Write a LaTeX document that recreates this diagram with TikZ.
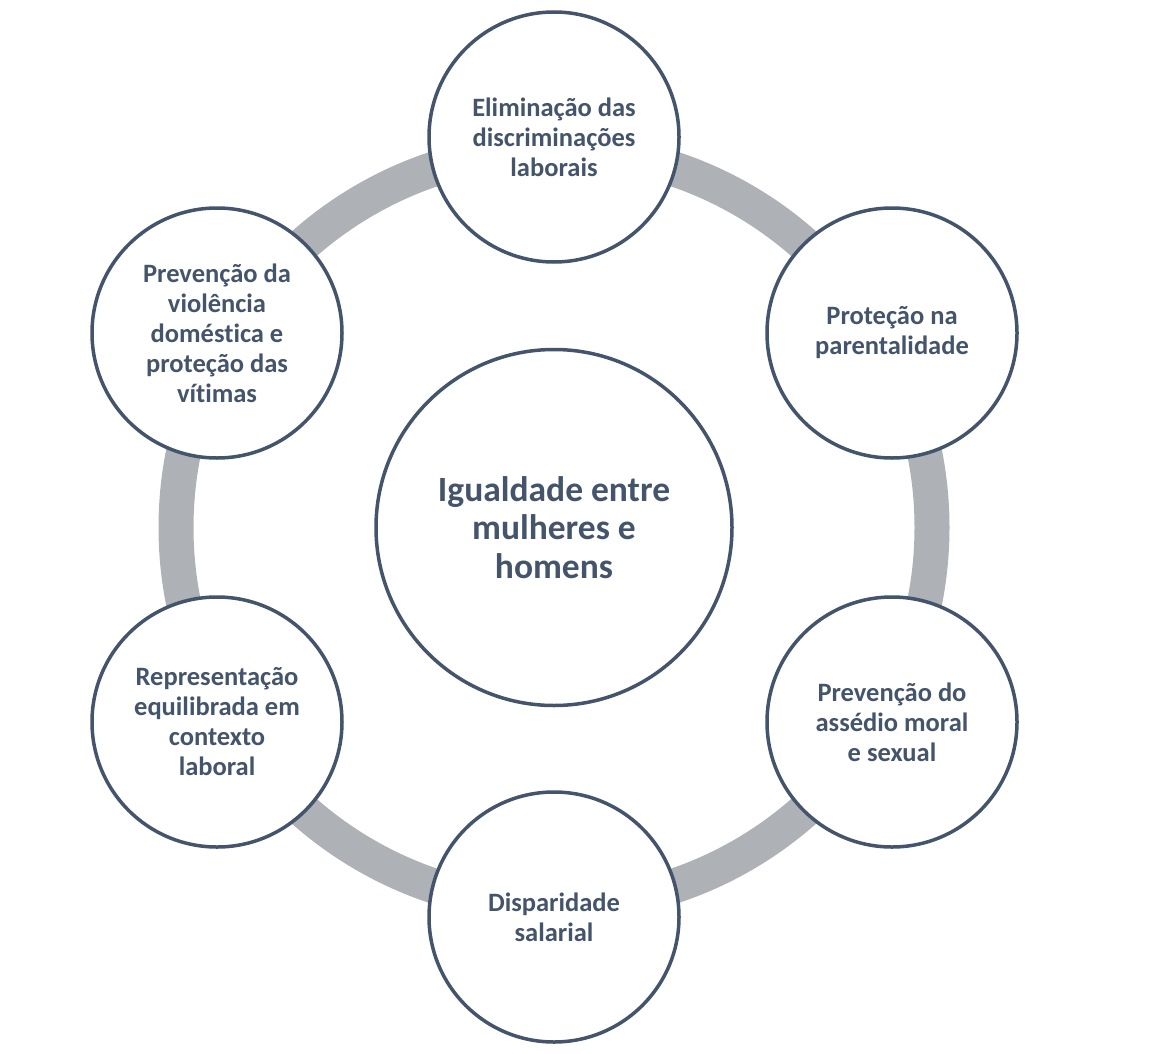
\documentclass[tikz,border=0pt]{standalone}
\usepackage{fontspec}
\setmainfont{Carlito}[Ligatures={NoCommon}]
\definecolor{txt}{HTML}{44546A}
\definecolor{ringc}{HTML}{AEB1B6}
\begin{document}
\begin{tikzpicture}[x=1pt,y=-1pt,
  bub/.style={circle,draw=txt,line width=3.5pt,fill=white,text=txt,align=center,
    font=\fontsize{26.5}{30}\selectfont\bfseries,minimum size=250pt,inner sep=0pt},
  hub/.style={circle,draw=txt,line width=3.5pt,fill=white,text=txt,align=center,
    font=\fontsize{35.5}{38.5}\selectfont\bfseries,minimum size=356pt,inner sep=0pt}]
\useasboundingbox (0,0) rectangle (1156,1054);
\coordinate (c) at (554,527.5);
\draw[ringc,line width=35pt] (c) circle[radius=378];
\node[hub] (hub) at (c) {Igualdade entre\\mulheres e\\homens};
\node[bub] (t) at (554,137) {Eliminação das\\discriminações\\laborais};
\node[bub] (tr) at (892,333) {Proteção na\\parentalidade};
\node[bub] (br) at (892,722) {Prevenção do\\assédio moral\\e sexual};
\node[bub] (b) at (554,917) {Disparidade\\salarial};
\node[bub] (bl) at (217,722) {Representação\\equilibrada em\\contexto\\laboral};
\node[bub] (tl) at (217,333) {Prevenção da\\violência\\doméstica e\\proteção das\\vítimas};
\end{tikzpicture}
\end{document}
